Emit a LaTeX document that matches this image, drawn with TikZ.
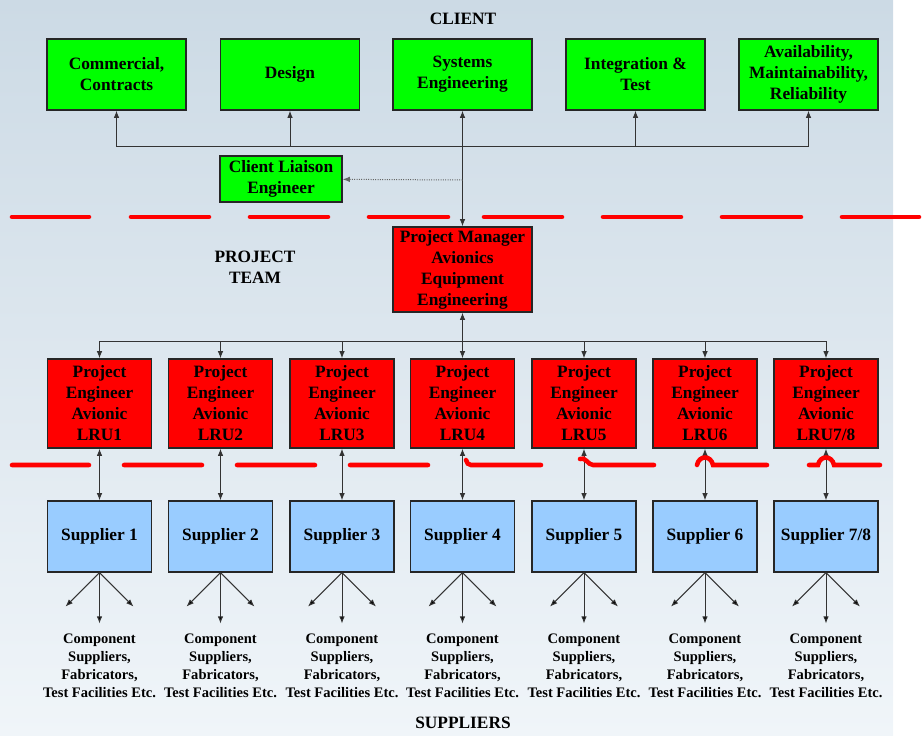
\documentclass[tikz,border=0pt]{standalone}
\usepackage{fontspec}
\setmainfont{Liberation Serif}
\usetikzlibrary{arrows.meta}
\definecolor{bgtop}{HTML}{CCDAE5}
\definecolor{bgbot}{HTML}{F0F5F9}
\definecolor{boxgreen}{RGB}{0,255,0}
\definecolor{boxred}{RGB}{255,0,0}
\definecolor{boxblue}{HTML}{99CCFF}
\begin{document}
\begin{tikzpicture}[x = 0.75pt, y = -0.75pt,
  >={Latex[length=5.5pt,width=4.2pt]},
  box/.style = {draw = black!85, line width = 0.9pt, inner sep = 0pt, align = center,
    font = \fontsize{13}{15.75}\selectfont\bfseries},
  greenbox/.style = {box, fill = boxgreen, minimum width = 104.25pt, minimum height = 53.25pt},
  liaisonbox/.style = {box, fill = boxgreen, minimum width = 91.5pt, minimum height = 34.5pt},
  pmbox/.style = {box, fill = boxred, minimum width = 104.25pt, minimum height = 63.75pt},
  lrubox/.style = {box, fill = boxred, minimum width = 78pt, minimum height = 66.75pt},
  supbox/.style = {box, fill = boxblue, minimum width = 78pt, minimum height = 53.25pt},
  heading/.style = {align = center, font = \fontsize{13}{15.75}\selectfont\bfseries},
  compnote/.style = {align = center, inner sep = 0pt, font = \fontsize{10.9}{13.5}\selectfont\bfseries},
  link/.style = {draw = black!80, line width = 0.75pt},
  cut/.style = {draw = red, line width = 3.4pt, line cap = round}]
\useasboundingbox (0,0) rectangle (922,736);
\shade[top color = bgtop, bottom color = bgbot] (0,0) rectangle (893,736);

\node[heading] at (463,19) (client) {CLIENT};
\node[heading] at (255,267) (team) {PROJECT\\TEAM};
\node[heading] at (463,723) (suppliers) {SUPPLIERS};

\node[greenbox] at (116.5,74.5) (com) {Commercial,\\Contracts};
\node[greenbox] at (290,74.5) (des) {Design};
\node[greenbox] at (462.5,74.5) (sys) {Systems\\Engineering};
\node[greenbox] at (635.5,74.5) (int) {Integration \&\\Test};
\node[greenbox] at (808.5,74.5) (avl) {Availability,\\Maintainability,\\Reliability};
\node[liaisonbox] at (281,179) (cle) {Client Liaison\\Engineer};
\node[pmbox] at (462.5,269.5) (pm) {Project Manager\\Avionics\\Equipment\\Engineering};

\node[lrubox] at (99.5,403.5) (lru1) {Project\\Engineer\\Avionic\\LRU1};
\node[lrubox] at (220.5,403.5) (lru2) {Project\\Engineer\\Avionic\\LRU2};
\node[lrubox] at (342,403.5) (lru3) {Project\\Engineer\\Avionic\\LRU3};
\node[lrubox] at (462.5,403.5) (lru4) {Project\\Engineer\\Avionic\\LRU4};
\node[lrubox] at (584,403.5) (lru5) {Project\\Engineer\\Avionic\\LRU5};
\node[lrubox] at (705,403.5) (lru6) {Project\\Engineer\\Avionic\\LRU6};
\node[lrubox] at (826,403.5) (lru7) {Project\\Engineer\\Avionic\\LRU7/8};

\node[supbox] at (99.5,536.5) (sup1) {Supplier 1};
\node[supbox] at (220.5,536.5) (sup2) {Supplier 2};
\node[supbox] at (342,536.5) (sup3) {Supplier 3};
\node[supbox] at (462.5,536.5) (sup4) {Supplier 4};
\node[supbox] at (584,536.5) (sup5) {Supplier 5};
\node[supbox] at (705,536.5) (sup6) {Supplier 6};
\node[supbox] at (826,536.5) (sup7) {Supplier 7/8};

\node[compnote] at (99.5,666) (cmp1) {Component\\Suppliers,\\Fabricators,\\Test Facilities Etc.};
\node[compnote] at (220.5,666) (cmp2) {Component\\Suppliers,\\Fabricators,\\Test Facilities Etc.};
\node[compnote] at (342,666) (cmp3) {Component\\Suppliers,\\Fabricators,\\Test Facilities Etc.};
\node[compnote] at (462.5,666) (cmp4) {Component\\Suppliers,\\Fabricators,\\Test Facilities Etc.};
\node[compnote] at (584,666) (cmp5) {Component\\Suppliers,\\Fabricators,\\Test Facilities Etc.};
\node[compnote] at (705,666) (cmp6) {Component\\Suppliers,\\Fabricators,\\Test Facilities Etc.};
\node[compnote] at (826,666) (cmp7) {Component\\Suppliers,\\Fabricators,\\Test Facilities Etc.};

% client side
\coordinate (cbus) at (462.5,146);
\coordinate (tap) at (462.5,180);
\draw[link, <->] (pm) -- (sys);
\draw[link, ->] (cbus) -| (com);
\draw[link, ->] (cbus) -| (des);
\draw[link, ->] (cbus) -| (int);
\draw[link, ->] (cbus) -| (avl);
\draw[link, densely dotted, draw = black!60, ->] (tap) -- (cle);

% project team
\coordinate (pbus) at (462.5,341);
\draw[link, <->] (pm) -- (lru4);
\draw[link, ->] (pbus) -| (lru1);
\draw[link, ->] (pbus) -| (lru2);
\draw[link, ->] (pbus) -| (lru3);
\draw[link, ->] (pbus) -| (lru5);
\draw[link, ->] (pbus) -| (lru6);
\draw[link, ->] (pbus) -| (lru7);

\draw[link, <->] (lru1) -- (sup1);
\draw[link, <->] (lru2) -- (sup2);
\draw[link, <->] (lru3) -- (sup3);
\draw[link, <->] (lru4) -- (sup4);
\draw[link, <->] (lru5) -- (sup5);
\draw[link, <->] (lru6) -- (sup6);
\draw[link, <->] (lru7) -- (sup7);

% suppliers
\draw[link] (sup1.south) edge[->] ++(-34,34) edge[->] ++(0,51) edge[->] ++(34,34);
\draw[link] (sup2.south) edge[->] ++(-34,34) edge[->] ++(0,51) edge[->] ++(34,34);
\draw[link] (sup3.south) edge[->] ++(-34,34) edge[->] ++(0,51) edge[->] ++(34,34);
\draw[link] (sup4.south) edge[->] ++(-34,34) edge[->] ++(0,51) edge[->] ++(34,34);
\draw[link] (sup5.south) edge[->] ++(-34,34) edge[->] ++(0,51) edge[->] ++(34,34);
\draw[link] (sup6.south) edge[->] ++(-34,34) edge[->] ++(0,51) edge[->] ++(34,34);
\draw[link] (sup7.south) edge[->] ++(-34,34) edge[->] ++(0,51) edge[->] ++(34,34);

% boundaries
\draw[cut] (12,217) -- (89,217) (131,217) -- (209,217) (250,217) -- (328,217)
  (369,217) -- (448,217) (484,217) -- (562,217) (603,217) -- (681,217)
  (722,217) -- (801,217) (842,217) -- (919,217);
\draw[cut] (12,465) -- (89,465) (124,465) -- (202,465) (237,465) -- (315,465)
  (350,465) -- (428,465)
  (466,460) .. controls (467,463) and (468,465) .. (471,465) -- (541,465)
  (580,459) .. controls (585,456) and (588,465) .. (593,465) -- (654,465)
  (697,465) .. controls (699,455) and (711,455) .. (713,465) -- (767,465)
  (809,465) -- (818,465) .. controls (820,455) and (832,455) .. (834,465) -- (880,465);
\end{tikzpicture}
\end{document}
